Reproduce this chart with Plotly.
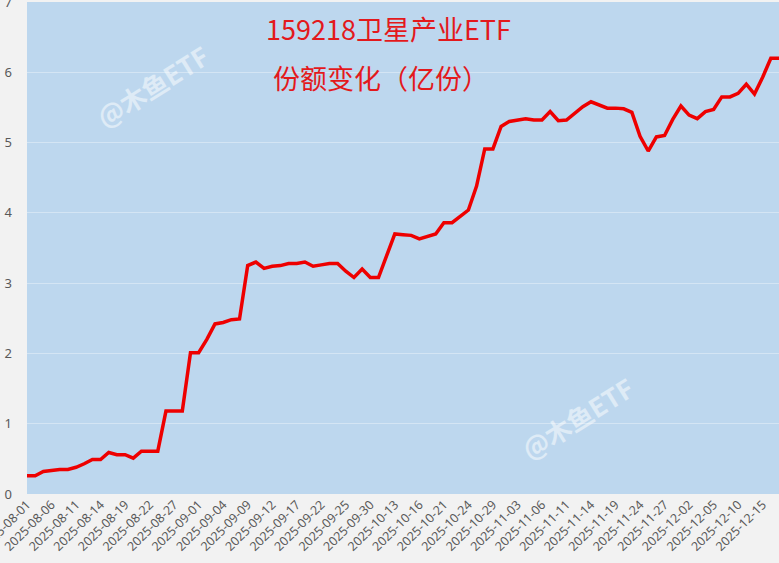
import plotly.graph_objects as go

dates = [
    "2025-08-01", "2025-08-04", "2025-08-05", "2025-08-06", "2025-08-07", "2025-08-08",
    "2025-08-11", "2025-08-12", "2025-08-13", "2025-08-14", "2025-08-15",
    "2025-08-18", "2025-08-19", "2025-08-20", "2025-08-21", "2025-08-22",
    "2025-08-25", "2025-08-26", "2025-08-27", "2025-08-28", "2025-08-29",
    "2025-09-01", "2025-09-02", "2025-09-03", "2025-09-04", "2025-09-05",
    "2025-09-08", "2025-09-09", "2025-09-10", "2025-09-11", "2025-09-12",
    "2025-09-15", "2025-09-16", "2025-09-17", "2025-09-18", "2025-09-19",
    "2025-09-22", "2025-09-23", "2025-09-24", "2025-09-25", "2025-09-26",
    "2025-09-29", "2025-09-30", "2025-10-09", "2025-10-10",
    "2025-10-13", "2025-10-14", "2025-10-15", "2025-10-16", "2025-10-17",
    "2025-10-20", "2025-10-21", "2025-10-22", "2025-10-23", "2025-10-24",
    "2025-10-27", "2025-10-28", "2025-10-29", "2025-10-30", "2025-10-31",
    "2025-11-03", "2025-11-04", "2025-11-05", "2025-11-06", "2025-11-07",
    "2025-11-10", "2025-11-11", "2025-11-12", "2025-11-13", "2025-11-14",
    "2025-11-17", "2025-11-18", "2025-11-19", "2025-11-20", "2025-11-21",
    "2025-11-24", "2025-11-25", "2025-11-26", "2025-11-27", "2025-11-28",
    "2025-12-01", "2025-12-02", "2025-12-03", "2025-12-04", "2025-12-05",
    "2025-12-08", "2025-12-09", "2025-12-10", "2025-12-11", "2025-12-12",
    "2025-12-15", "2025-12-16", "2025-12-17",
]

shares = [
    0.26, 0.26, 0.32, 0.34, 0.35, 0.35,
    0.38, 0.43, 0.49, 0.49, 0.59,
    0.56, 0.56, 0.51, 0.61, 0.61,
    0.61, 1.18, 1.18, 1.18, 2.01,
    2.01, 2.20, 2.42, 2.44, 2.48,
    2.49, 3.25, 3.30, 3.21, 3.24,
    3.25, 3.28, 3.28, 3.30, 3.24,
    3.26, 3.28, 3.28, 3.17, 3.08,
    3.20, 3.08, 3.08, 3.39,
    3.70, 3.69, 3.68, 3.63, 3.66,
    3.70, 3.86, 3.86, 3.95, 4.04,
    4.38, 4.91, 4.91, 5.23, 5.30,
    5.32, 5.34, 5.32, 5.32, 5.44,
    5.31, 5.32, 5.42, 5.51, 5.58,
    5.54, 5.49, 5.49, 5.48, 5.43,
    5.09, 4.88, 5.08, 5.10, 5.33,
    5.52, 5.39, 5.34, 5.44, 5.47,
    5.65, 5.65, 5.70, 5.83, 5.69,
    5.93, 6.20, 6.20,
]

tick_labels = [
    "2025-08-01", "2025-08-06", "2025-08-11", "2025-08-14", "2025-08-19", "2025-08-22",
    "2025-08-27", "2025-09-01", "2025-09-04", "2025-09-09", "2025-09-12", "2025-09-17",
    "2025-09-22", "2025-09-25", "2025-09-30", "2025-10-13", "2025-10-16", "2025-10-21",
    "2025-10-24", "2025-10-29", "2025-11-03", "2025-11-06", "2025-11-11", "2025-11-14",
    "2025-11-19", "2025-11-24", "2025-11-27", "2025-12-02", "2025-12-05", "2025-12-10",
    "2025-12-15",
]

y_ticks = [0, 1, 2, 3, 4, 5, 6, 7]

title_line1 = "159218卫星产业ETF"
title_line2 = "份额变化（亿份）"
watermark = "@木鱼ETF"

fig = go.Figure()
fig.add_trace(go.Scatter(
    x=dates, y=shares, mode="lines",
    line=dict(color="#ee0000", width=3.5),
    hoverinfo="x+y", showlegend=False, cliponaxis=False,
))

fig.update_layout(
    width=779, height=563,
    margin=dict(l=27, r=0, t=2, b=69, autoexpand=False),
    paper_bgcolor="#f2f2f2",
    plot_bgcolor="#bdd7ee",
    font=dict(family="Noto Sans CJK SC, Noto Sans, sans-serif", color="#595959"),
    xaxis=dict(
        type="category",
        range=[0, len(dates) - 1],
        tickmode="array",
        tickvals=tick_labels,
        ticktext=tick_labels,
        tickangle=-45,
        tickfont=dict(size=12.5, color="#595959", family="Noto Sans, sans-serif"),
        showgrid=False,
        zeroline=False,
        showline=False,
        ticks="",
        automargin=False,
        ticklabeloverflow="allow",
    ),
    yaxis=dict(
        range=[0, 7],
        tickmode="array",
        tickvals=y_ticks,
        tickfont=dict(size=13, color="#595959", family="Noto Sans, sans-serif"),
        showgrid=True,
        gridcolor="rgba(255,255,255,0.35)",
        gridwidth=1,
        zeroline=False,
        showline=False,
        ticks="",
        ticklabelstandoff=14,
        automargin=False,
        ticklabeloverflow="allow",
    ),
    annotations=[
        dict(text=title_line1, xref="paper", yref="paper", x=(388 - 27) / 752,
             y=(494 - 28) / 492, xanchor="center", yanchor="middle", showarrow=False,
             font=dict(size=27, color="#e3191c", family="Noto Sans CJK SC")),
        dict(text=title_line2, xref="paper", yref="paper", x=(381 - 27) / 752,
             y=(494 - 78) / 492, xanchor="center", yanchor="middle", showarrow=False,
             font=dict(size=27, color="#e3191c", family="Noto Sans CJK SC")),
        dict(text="<b>" + watermark + "</b>", xref="paper", yref="paper",
             x=(152 - 27) / 752, y=(494 - 85) / 492, xanchor="center", yanchor="middle",
             showarrow=False, textangle=-32,
             font=dict(size=26, color="rgba(255,255,255,0.5)", family="Noto Sans CJK SC")),
        dict(text="<b>" + watermark + "</b>", xref="paper", yref="paper",
             x=(577 - 27) / 752, y=(494 - 417) / 492, xanchor="center", yanchor="middle",
             showarrow=False, textangle=-32,
             font=dict(size=26, color="rgba(255,255,255,0.5)", family="Noto Sans CJK SC")),
    ],
)

fig.write_html(
    "out.html",
    config={"displayModeBar": False},
    post_script="document.body.style.margin='0';document.body.style.overflow='hidden';",
)
